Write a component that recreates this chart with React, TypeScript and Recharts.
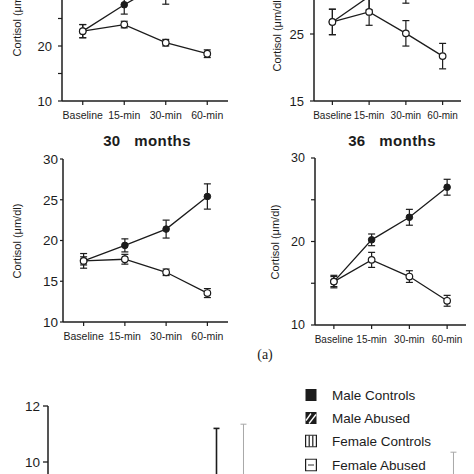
import { Bar, BarChart, ErrorBar, Line, LineChart, XAxis, YAxis } from 'recharts';

const FONT = '"Liberation Sans", Arial, Helvetica, sans-serif';
const INK = '#1c1c1c';

// sampling times, shared by the four line panels
const times = ['Baseline', '15-min', '30-min', '60-min'];

// panel A (top left, header cut off)
const filledA = [22.7, 27.5, 31.8, 33.5];
const filledErrA = [1.2, 1.7, 4.2, 3.0];
const openA = [22.7, 23.9, 20.6, 18.6];
const openErrA = [1.2, 0.6, 0.6, 0.7];

// panel B (top right, header cut off)
const filledB = [26.8, 30.6, 31.8, 32.5];
const filledErrB = [1.9, 2.0, 2.2, 2.0];
const openB = [26.8, 28.3, 25.1, 21.7];
const openErrB = [1.9, 2.0, 1.9, 1.9];

// 30 months
const filled30 = [17.5, 19.4, 21.4, 25.4];
const filledErr30 = [0.9, 0.8, 1.1, 1.55];
const open30 = [17.5, 17.7, 16.1, 13.55];
const openErr30 = [0.5, 0.6, 0.4, 0.55];

// 36 months
const filled36 = [15.2, 20.2, 22.9, 26.5];
const filledErr36 = [0.75, 0.7, 0.95, 0.95];
const open36 = [15.2, 17.8, 15.8, 12.9];
const openErr36 = [0.6, 0.9, 0.7, 0.65];

// bottom bar chart (only the top of it is visible)
const groupPos = [1, 2, 3];
const maleControls = [6.8, 8.6, 7.2];
const maleControlsErr = [1.4, 2.6, 1.5];
const maleAbused = [7.0, 8.9, 7.4];
const maleAbusedErr = [1.3, 2.45, 1.4];
const femaleControls = [6.5, 7.6, 7.0];
const femaleControlsErr = [1.2, 1.5, 1.6];
const femaleAbused = [6.9, 7.4, 8.2];
const femaleAbusedErr = [1.5, 1.6, 2.15];
const barTicks = [0, 2, 4, 6, 8, 10, 12];

const YW = 50;
const PAD = 6;

function buildRows(filled: number[], filledErr: number[], open: number[], openErr: number[]) {
  return times.map((time, i) => ({
    time,
    filled: filled[i],
    filledErr: filledErr[i],
    open: open[i],
    openErr: openErr[i],
  }));
}

interface PanelProps {
  rows: ReturnType<typeof buildRows>;
  box: { left: number; top: number; width: number; height: number };
  domain: [number, number];
  ticks: number[];
  labeled: number[];
  yFont: number;
  yTickSize: number;
  yTickMargin: number;
  xFont: number;
  labelX: number;
}

function CortisolPanel(props: PanelProps) {
  const { box } = props;
  const side = box.width / 8;
  return (
    <>
      <div style={{ position: 'absolute', left: box.left - YW, top: box.top - PAD }}>
        <LineChart
          width={YW + box.width + PAD}
          height={PAD + box.height + 32}
          data={props.rows}
          margin={{ top: PAD, right: PAD, bottom: 0, left: 0 }}
        >
          <XAxis
            xAxisId="x"
            dataKey="time"
            interval={0}
            padding={{ left: side, right: side }}
            height={32}
            tickSize={4}
            tickMargin={7}
            tick={{ fill: INK, fontSize: props.xFont, fontFamily: FONT }}
            tickLine={{ stroke: INK, strokeWidth: 1.2 }}
            axisLine={{ stroke: INK, strokeWidth: 1.5 }}
          />
          <XAxis
            xAxisId="top"
            orientation="top"
            dataKey="time"
            height={0}
            tick={false}
            tickLine={false}
            axisLine={{ stroke: '#444', strokeWidth: 1 }}
          />
          <YAxis
            yAxisId="y"
            width={YW}
            domain={props.domain}
            ticks={props.ticks}
            interval={0}
            allowDataOverflow
            tickSize={props.yTickSize}
            tickMargin={props.yTickMargin}
            tickFormatter={(v: number) => (props.labeled.includes(v) ? String(v) : '')}
            tick={{ fill: INK, fontSize: props.yFont, fontFamily: FONT }}
            tickLine={{ stroke: INK, strokeWidth: 1.2 }}
            axisLine={{ stroke: INK, strokeWidth: 1.5 }}
          />
          <YAxis
            yAxisId="r"
            orientation="right"
            width={0}
            domain={props.domain}
            tick={false}
            tickLine={false}
            axisLine={{ stroke: '#444', strokeWidth: 1 }}
          />
          <Line
            xAxisId="x"
            yAxisId="y"
            dataKey="filled"
            stroke={INK}
            strokeWidth={1.3}
            dot={{ r: 3.3, fill: INK, stroke: INK, strokeWidth: 1 }}
            isAnimationActive={false}
          >
            <ErrorBar dataKey="filledErr" width={3.5} stroke={INK} strokeWidth={1.2} />
          </Line>
          <Line
            xAxisId="x"
            yAxisId="y"
            dataKey="open"
            stroke={INK}
            strokeWidth={1.3}
            dot={{ r: 3.3, fill: '#fff', stroke: INK, strokeWidth: 1.2 }}
            isAnimationActive={false}
          >
            <ErrorBar dataKey="openErr" width={3.5} stroke={INK} strokeWidth={1.2} />
          </Line>
        </LineChart>
      </div>
      <div
        style={{
          position: 'absolute',
          left: props.labelX,
          top: box.top + box.height / 2,
          transform: 'translate(-50%, -50%) rotate(-90deg)',
          whiteSpace: 'nowrap',
          fontSize: 11,
          color: INK,
        }}
      >
        Cortisol (μm/dl)
      </div>
    </>
  );
}

function Title(props: { text: string; x: number; y: number }) {
  return (
    <div
      style={{
        position: 'absolute',
        left: props.x,
        top: props.y,
        transform: 'translate(-50%, -50%)',
        whiteSpace: 'pre',
        fontSize: 15,
        fontWeight: 'bold',
        letterSpacing: 0.4,
        color: INK,
      }}
    >
      {props.text}
    </div>
  );
}

function Swatch(props: { kind: number }) {
  const k = props.kind;
  return (
    <svg width={12} height={13} style={{ display: 'block' }}>
      {k === 0 && <rect x={0.5} y={0.5} width={11} height={12} fill={INK} />}
      {k === 1 && (
        <g>
          <rect x={0.5} y={0.5} width={11} height={12} fill={INK} />
          <line x1={1} y1={9} x2={6} y2={2} stroke="#fff" strokeWidth={1.3} />
          <line x1={4} y1={12} x2={11} y2={3} stroke="#fff" strokeWidth={1.3} />
        </g>
      )}
      {k === 2 && (
        <g fill="none" stroke={INK} strokeWidth={1.2}>
          <rect x={0.6} y={0.6} width={10.8} height={11.8} />
          <line x1={4.2} y1={1} x2={4.2} y2={12} />
          <line x1={7.8} y1={1} x2={7.8} y2={12} />
        </g>
      )}
      {k === 3 && (
        <g fill="none" stroke={INK} strokeWidth={1.2}>
          <rect x={0.6} y={0.6} width={10.8} height={11.8} />
          <line x1={3} y1={6.5} x2={9} y2={6.5} strokeWidth={0.9} />
        </g>
      )}
    </svg>
  );
}

const legendNames = ['Male Controls', 'Male Abused', 'Female Controls', 'Female Abused'];
const legendRows = [395, 418, 441, 465];

export default function App() {
  const barRows = groupPos.map((pos, i) => ({
    pos,
    maleControls: maleControls[i],
    maleControlsErr: maleControlsErr[i],
    maleAbused: maleAbused[i],
    maleAbusedErr: maleAbusedErr[i],
    femaleControls: femaleControls[i],
    femaleControlsErr: femaleControlsErr[i],
    femaleAbused: femaleAbused[i],
    femaleAbusedErr: femaleAbusedErr[i],
  }));

  return (
    <div
      style={{
        position: 'absolute',
        left: 0,
        top: 0,
        width: 474,
        height: 474,
        overflow: 'hidden',
        background: '#fff',
        fontFamily: FONT,
      }}
    >
      <CortisolPanel
        rows={buildRows(filledA, filledErrA, openA, openErrA)}
        box={{ left: 62, top: -64, width: 166, height: 165 }}
        domain={[10, 40]}
        ticks={[10, 15, 20, 25, 30, 35, 40]}
        labeled={[10, 20, 30, 40]}
        yFont={13}
        yTickSize={4}
        yTickMargin={6}
        xFont={10.5}
        labelX={17}
      />
      <CortisolPanel
        rows={buildRows(filledB, filledErrB, openB, openErrB)}
        box={{ left: 314, top: -33, width: 147, height: 134 }}
        domain={[15, 35]}
        ticks={[15, 25, 35]}
        labeled={[15, 25, 35]}
        yFont={13}
        yTickSize={4}
        yTickMargin={6}
        xFont={10}
        labelX={277}
      />
      <CortisolPanel
        rows={buildRows(filled30, filledErr30, open30, openErr30)}
        box={{ left: 63, top: 159, width: 165, height: 163 }}
        domain={[10, 30]}
        ticks={[10, 15, 20, 25, 30]}
        labeled={[10, 15, 20, 25, 30]}
        yFont={13.5}
        yTickSize={3}
        yTickMargin={2}
        xFont={10.5}
        labelX={17}
      />
      <CortisolPanel
        rows={buildRows(filled36, filledErr36, open36, openErr36)}
        box={{ left: 315, top: 158, width: 151, height: 167 }}
        domain={[10, 30]}
        ticks={[10, 15, 20, 25, 30]}
        labeled={[10, 20, 30]}
        yFont={12.5}
        yTickSize={4}
        yTickMargin={6}
        xFont={10}
        labelX={275}
      />
      <Title text="30   months" x={147} y={140} />
      <Title text="36   months" x={392} y={140} />

      <div
        style={{
          position: 'absolute',
          left: 265,
          top: 355,
          transform: 'translate(-50%, -50%)',
          fontFamily: '"Liberation Serif", "Times New Roman", serif',
          fontSize: 14,
          color: INK,
        }}
      >
        (a)
      </div>

      <div style={{ position: 'absolute', left: 48 - 44, top: 406 - PAD }}>
        <BarChart
          width={44 + 426}
          height={PAD + 336}
          data={barRows}
          margin={{ top: PAD, right: 0, left: 0, bottom: 0 }}
          barSize={18}
          barGap={9}
        >
          <XAxis type="number" dataKey="pos" domain={[0.657, 3.388]} hide allowDataOverflow />
          <YAxis
            width={44}
            domain={[0, 12]}
            ticks={barTicks}
            interval={0}
            tickSize={5}
            tickMargin={3}
            tick={{ fill: INK, fontSize: 13.5, fontFamily: FONT }}
            tickLine={{ stroke: INK, strokeWidth: 1.3 }}
            axisLine={{ stroke: INK, strokeWidth: 1.5 }}
          />
          <Bar dataKey="maleControls" fill={INK} isAnimationActive={false}>
            <ErrorBar dataKey="maleControlsErr" width={3} stroke={INK} strokeWidth={1.6} />
          </Bar>
          <Bar dataKey="maleAbused" fill="#555" isAnimationActive={false}>
            <ErrorBar dataKey="maleAbusedErr" width={3} stroke="#a8a8a8" strokeWidth={1} />
          </Bar>
          <Bar dataKey="femaleControls" fill="#fff" stroke={INK} isAnimationActive={false}>
            <ErrorBar dataKey="femaleControlsErr" width={3} stroke="#a8a8a8" strokeWidth={1} />
          </Bar>
          <Bar dataKey="femaleAbused" fill="#fff" stroke={INK} isAnimationActive={false}>
            <ErrorBar dataKey="femaleAbusedErr" width={3} stroke="#a8a8a8" strokeWidth={1} />
          </Bar>
        </BarChart>
      </div>

      {legendNames.map((name, i) => (
        <div
          key={name}
          style={{
            position: 'absolute',
            left: 305,
            top: legendRows[i],
            transform: 'translateY(-50%)',
            display: 'flex',
            alignItems: 'center',
            background: '#fff',
          }}
        >
          <Swatch kind={i} />
          <span style={{ marginLeft: 15, fontSize: 13.5, color: INK, whiteSpace: 'nowrap' }}>{name}</span>
        </div>
      ))}
    </div>
  );
}
